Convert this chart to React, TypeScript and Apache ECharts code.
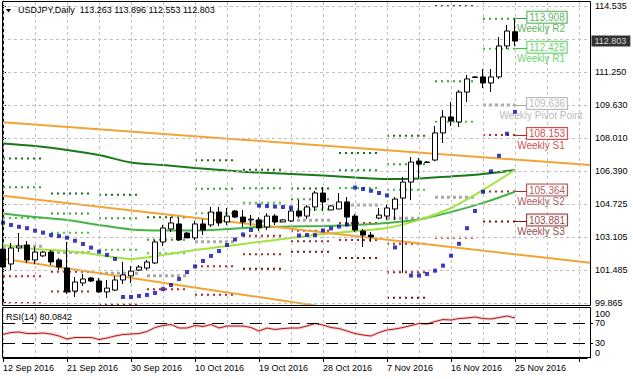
import { useEffect, useRef } from 'react';
import * as echarts from 'echarts';

const FONT = '"Liberation Sans", Arial, Helvetica, sans-serif';

const dates = ['12 Sep 2016','13 Sep 2016','14 Sep 2016','15 Sep 2016','16 Sep 2016','18 Sep 2016','19 Sep 2016','20 Sep 2016','21 Sep 2016','22 Sep 2016','23 Sep 2016','25 Sep 2016','26 Sep 2016','27 Sep 2016','28 Sep 2016','29 Sep 2016','30 Sep 2016','2 Oct 2016','3 Oct 2016','4 Oct 2016','5 Oct 2016','6 Oct 2016','7 Oct 2016','9 Oct 2016','10 Oct 2016','11 Oct 2016','12 Oct 2016','13 Oct 2016','14 Oct 2016','16 Oct 2016','17 Oct 2016','18 Oct 2016','19 Oct 2016','20 Oct 2016','21 Oct 2016','23 Oct 2016','24 Oct 2016','25 Oct 2016','26 Oct 2016','27 Oct 2016','28 Oct 2016','30 Oct 2016','31 Oct 2016','1 Nov 2016','2 Nov 2016','3 Nov 2016','4 Nov 2016','6 Nov 2016','7 Nov 2016','8 Nov 2016','9 Nov 2016','10 Nov 2016','11 Nov 2016','13 Nov 2016','14 Nov 2016','15 Nov 2016','16 Nov 2016','17 Nov 2016','18 Nov 2016','20 Nov 2016','21 Nov 2016','22 Nov 2016','23 Nov 2016','24 Nov 2016','25 Nov 2016'];

const opens = [102.52,101.78,102.57,102.72,101.98,102.18,102.37,101.98,101.58,100.44,100.84,101.09,100.94,100.40,100.49,100.99,101.19,101.48,101.58,101.83,102.87,103.51,103.76,103.31,103.07,103.76,103.71,104.35,103.86,104.40,104.10,103.96,103.96,103.61,104.15,103.86,103.91,104.40,104.15,104.60,105.29,104.45,104.50,104.85,104.15,103.41,103.21,104.05,104.15,104.50,105.04,105.83,106.87,106.80,106.92,108.26,109.05,108.80,110.28,111.00,111.03,110.73,111.03,112.56,113.263];
const highs = [102.67,102.82,103.31,102.92,102.62,102.42,102.47,102.08,102.87,101.14,101.29,101.14,101.09,100.99,101.19,101.88,101.68,101.73,101.98,102.97,103.71,104.10,104.05,103.36,103.91,104.00,104.60,104.60,104.55,104.45,104.45,104.20,104.10,104.30,104.25,104.00,104.50,104.94,104.70,105.39,105.59,104.70,105.29,105.09,104.25,103.51,103.36,104.55,104.70,105.09,106.08,107.07,107.02,106.87,108.60,109.39,109.79,110.38,111.12,111.07,111.42,111.42,113.00,113.60,113.896];
const lows = [101.38,101.48,102.37,101.83,101.78,102.13,101.73,101.48,100.30,100.15,100.69,100.89,100.35,100.10,100.44,100.79,100.84,101.43,101.48,101.78,102.67,103.36,102.92,103.07,102.97,103.21,103.61,103.66,103.71,104.05,103.61,103.66,103.41,103.46,103.71,103.86,103.86,104.05,104.00,104.40,104.40,104.45,104.50,103.66,103.36,102.62,102.87,104.00,103.96,103.96,101.34,104.94,106.03,106.77,106.87,107.76,108.60,108.55,109.79,110.98,110.48,110.28,110.93,112.41,112.553];
const closes = [101.63,102.57,102.67,101.98,102.37,102.37,101.88,101.63,100.40,100.89,101.04,100.94,100.40,100.59,100.99,101.24,101.43,101.63,101.88,102.87,103.56,103.81,102.97,103.07,103.76,103.46,104.35,103.81,104.15,104.10,103.86,104.00,103.56,104.15,103.86,103.96,104.40,104.15,104.60,105.29,104.85,104.65,104.85,104.10,103.46,103.21,103.12,104.20,104.55,104.99,105.83,106.82,106.72,106.82,108.26,109.05,108.85,110.28,110.93,111.03,110.73,111.03,112.56,113.30,112.803];

const sar = [103.82,103.71,103.62,103.55,103.43,103.33,103.21,103.16,103.08,102.93,102.77,102.59,102.39,102.23,102.03,100.15,100.15,100.20,100.25,100.35,100.54,100.74,101.04,101.38,101.66,101.93,102.18,102.42,102.72,102.99,103.24,103.46,104.67,104.65,104.62,104.60,104.57,103.19,103.21,103.21,103.44,103.54,103.63,103.73,105.56,105.49,105.40,105.29,105.17,102.60,105.29,101.21,101.21,101.29,101.45,101.70,102.19,102.78,103.55,104.40,105.35,106.36,107.13,108.22,109.30];

const rsi = [47,51,52,49,49,50,48,44,38,41,41,41,37,40,44,47,48,49,53,61,65,67,60,60,65,63,67,60,64,64,64,61,54,60,57,59,60,60,64,69,66,61,59,54,49,46,44,51,56,58,61,65,69,68,73,77,76,79,80,82,79,78,81,84,80.08];

// moving averages read every 4 bars
const maIdx = [0,4,8,12,16,20,24,28,32,36,40,44,48,52,56,60,64];
const maSlow = [107.74,107.61,107.42,107.17,106.80,106.67,106.53,106.40,106.30,106.23,106.16,106.06,105.98,106.01,106.11,106.23,106.43];
const maMid = [104.28,104.10,103.96,103.71,103.49,103.44,103.44,103.51,103.61,103.63,103.66,103.71,103.81,103.98,104.35,104.80,105.35];
const maFast = [102.72,102.52,102.42,102.23,102.03,102.23,102.47,102.67,102.87,103.07,103.26,103.41,103.56,103.96,104.55,105.44,106.43];

// trend lines (start/end bar index and price)
const trendStartIdx = [0, 0, 0];
const trendStartPrice = [108.79, 105.15, 102.04];
const trendEndIdx = [73.375, 73.375, 40];
const trendEndPrice = [106.67, 101.84, 99.67];

// weekly pivot levels (Mon..Sun weeks)
const weekStart = [0, 6, 12, 18, 24, 30, 36, 42, 48, 54, 60];
const weekEnd = [5, 11, 17, 23, 29, 35, 41, 47, 53, 59, 64];
const pivR3 = [107.00,105.26,105.21,104.09,106.91,106.44,105.51,107.27,108.12,114.54,116.697];
const pivR2 = [105.57,104.28,104.04,102.98,105.50,105.52,104.98,106.43,106.71,110.81,113.908];
const pivR1 = [104.05,103.33,102.49,102.31,104.29,104.81,104.47,105.54,105.45,108.81,112.425];
const pivP = [102.66,102.35,101.32,101.20,102.88,103.89,103.94,104.70,104.04,105.08,109.636];
const pivS1 = [101.18,101.40,99.77,100.53,101.67,103.18,103.43,103.81,102.78,103.08,108.153];
const pivS2 = [99.85,100.42,98.60,99.42,100.26,102.26,102.90,102.97,101.37,99.35,105.364];
const pivS3 = [98.30,99.47,97.05,98.75,99.05,101.55,102.39,102.08,100.11,97.35,103.881];

const yLabelValues = [114.535, 111.25, 109.63, 108.01, 106.39, 104.725, 103.105, 101.485, 99.865];
const yGridValues = [114.535, 112.905, 111.25, 109.63, 108.01, 106.39, 104.725, 103.105, 101.485, 99.865];
const currentPrice = 112.803;
const title = 'USDJPY,Daily  113.263 113.896 112.553 112.803';
const rsiTitle = 'RSI(14) 80.0842';

const SLOTS = 74;

export default function App() {
  const ref = useRef<HTMLDivElement>(null);
  useEffect(() => {
    const chart = echarts.init(ref.current!, null, { renderer: 'svg' });
    const cats = Array.from({ length: SLOTS }, (_, i) => dates[i] ?? '');
    const vGrid = Array.from({ length: 19 }, (_, k) => k * 4);

    const levels = [
      { name: 'R3', vals: pivR3, color: '#1f6b1f', label: null as string | null, dot: [2, 4], w: 2 },
      { name: 'R2', vals: pivR2, color: '#33a133', label: 'Weekly R2', dot: [2, 4], w: 2 },
      { name: 'R1', vals: pivR1, color: '#3ec83e', label: 'Weekly R1', dot: [2, 4], w: 2 },
      { name: 'P', vals: pivP, color: '#a8a8a8', label: 'Weekly Pivot Point', dot: [3, 3], w: 3 },
      { name: 'S1', vals: pivS1, color: '#c42020', label: 'Weekly S1', dot: [2, 4], w: 2 },
      { name: 'S2', vals: pivS2, color: '#963030', label: 'Weekly S2', dot: [2, 4], w: 2 },
      { name: 'S3', vals: pivS3, color: '#7a1010', label: 'Weekly S3', dot: [2, 4], w: 2 },
    ];
    const K = weekStart.length - 1;

    const pivotSeries = levels.map((lv) => {
      const data: any[] = [];
      weekStart.forEach((s, w) => {
        data.push([s, lv.vals[w]], [weekEnd[w], lv.vals[w]], [weekEnd[w], null]);
      });
      return {
        type: 'line', xAxisIndex: 0, yAxisIndex: 0, z: 2, symbol: 'none', showSymbol: false,
        connectNulls: false, silent: true,
        lineStyle: { color: lv.color, width: lv.w, type: lv.dot },
        data,
        markLine: lv.label ? {
          silent: true, symbol: ['none', 'none'], label: { show: false },
          lineStyle: { color: lv.color, width: 1, type: 'solid' },
          data: [[{ coord: [weekEnd[K], lv.vals[K]] }, { coord: [65.5, lv.vals[K]] }]],
        } : undefined,
      };
    });

    const labeled = levels.filter((l) => l.label);

    const option: any = {
      animation: false,
      backgroundColor: '#ffffff',
      textStyle: { fontFamily: FONT },
      title: [
        { text: title, left: 18, top: 5, padding: 0, textStyle: { fontSize: 9, fontWeight: 'normal', color: '#000', fontFamily: FONT } },
        { text: rsiTitle, left: 6, top: 312, padding: 0, textStyle: { fontSize: 9, fontWeight: 'normal', color: '#000', fontFamily: FONT } },
      ],
      grid: [
        { left: 2, right: 43, top: 1, height: 304 },
        { left: 3, right: 46, top: 308, height: 50 },
      ],
      xAxis: [
        { type: 'value', gridIndex: 0, min: -0.125, max: 73.375, show: false },
        {
          type: 'category', gridIndex: 1, data: cats, boundaryGap: false,
          axisLine: { show: true, lineStyle: { color: '#000' } },
          axisTick: { show: true, interval: 7, length: 4, lineStyle: { color: '#000' } },
          axisLabel: { interval: 7, align: 'left', fontSize: 9, color: '#000', margin: 5, fontFamily: FONT },
          splitLine: { show: true, interval: 3, lineStyle: { color: '#c0c0c0', type: [3, 3] } },
        },
      ],
      yAxis: [
        {
          type: 'value', gridIndex: 0, position: 'right', min: 99.753, max: 114.783, scale: true,
          axisLine: { show: true, lineStyle: { color: '#000' } },
          axisTick: { show: true, length: 3, customValues: yLabelValues, lineStyle: { color: '#000' } },
          axisLabel: { customValues: yLabelValues, formatter: (v: number) => v.toFixed(3), fontSize: 9, color: '#000', margin: 5, fontFamily: FONT },
          splitLine: { show: false },
        },
        {
          type: 'value', gridIndex: 1, position: 'right', offset: 3, min: 0, max: 100,
          axisLine: { show: true, lineStyle: { color: '#000' } },
          axisTick: { show: true, length: 3, customValues: [30, 70], lineStyle: { color: '#000' } },
          axisLabel: { customValues: [30, 70], fontSize: 9, color: '#000', margin: 5, fontFamily: FONT },
          splitLine: { show: false },
        },
      ],
      graphic: [
        { type: 'rect', z: 100, silent: true, shape: { x: 2.5, y: 1.5, width: 588, height: 304 }, style: { fill: 'none', stroke: '#000', lineWidth: 1 } },
        { type: 'rect', z: 100, silent: true, shape: { x: 2.5, y: 307.5, width: 588, height: 50 }, style: { fill: 'none', stroke: '#000', lineWidth: 1 } },
        { type: 'polygon', z: 100, silent: true, shape: { points: [[6, 9], [11, 9], [8.5, 12.5]] }, style: { fill: '#000' } },
        { type: 'text', z: 100, silent: true, x: 595, y: 314, style: { text: '100', fontSize: 9, fontFamily: FONT, fill: '#000', verticalAlign: 'middle' } },
        { type: 'text', z: 100, silent: true, x: 595, y: 353, style: { text: '0', fontSize: 9, fontFamily: FONT, fill: '#000', verticalAlign: 'middle' } },
      ],
      series: [
        {
          type: 'line', xAxisIndex: 0, yAxisIndex: 0, data: [], z: 1, silent: true,
          markLine: {
            silent: true, symbol: ['none', 'none'], label: { show: false },
            lineStyle: { color: '#c0c0c0', width: 1, type: [3, 3] },
            data: [...yGridValues.map((v) => ({ yAxis: v })), ...vGrid.map((x) => ({ xAxis: x }))],
          },
        },
        ...pivotSeries,
        { type: 'line', xAxisIndex: 0, yAxisIndex: 0, z: 3, symbol: 'none', smooth: 0.3, silent: true, lineStyle: { color: '#167a16', width: 2 }, data: maIdx.map((x, k) => [x, maSlow[k]]) },
        { type: 'line', xAxisIndex: 0, yAxisIndex: 0, z: 3, symbol: 'none', smooth: 0.3, silent: true, lineStyle: { color: '#44b444', width: 2 }, data: maIdx.map((x, k) => [x, maMid[k]]) },
        { type: 'line', xAxisIndex: 0, yAxisIndex: 0, z: 3, symbol: 'none', smooth: 0.3, silent: true, lineStyle: { color: '#a2e43c', width: 2 }, data: maIdx.map((x, k) => [x, maFast[k]]) },
        ...trendStartIdx.map((s, k) => ({
          type: 'line', xAxisIndex: 0, yAxisIndex: 0, z: 4, symbol: 'none', silent: true,
          lineStyle: { color: '#f2a535', width: 2 },
          data: [[s, trendStartPrice[k]], [trendEndIdx[k], trendEndPrice[k]]],
        })),
        {
          type: 'scatter', xAxisIndex: 0, yAxisIndex: 0, z: 5, symbol: 'rect', symbolSize: [4, 4], silent: true,
          itemStyle: { color: '#0c0cb4' },
          data: sar.map((v, i) => [i, v]),
        },
        {
          type: 'candlestick', xAxisIndex: 0, yAxisIndex: 0, z: 6, barWidth: 5, silent: true,
          itemStyle: { color: '#ffffff', color0: '#000000', borderColor: '#000000', borderColor0: '#000000', borderWidth: 1 },
          data: opens.map((o, i) => [i, o, closes[i], lows[i], highs[i]]),
        },
        {
          type: 'scatter', xAxisIndex: 0, yAxisIndex: 0, z: 8, symbolSize: 1, silent: true,
          itemStyle: { color: 'transparent' },
          data: labeled.map((lv) => ({
            value: [68, lv.vals[K]],
            label: {
              show: true, position: 'inside', offset: [0, -1.5], formatter: lv.vals[K].toFixed(3), color: lv.color,
              fontSize: 10, fontFamily: FONT, backgroundColor: '#ffffff', borderColor: lv.color, borderWidth: 1,
              padding: [1, 2, 0, 2], lineHeight: 10,
            },
          })),
        },
        {
          type: 'scatter', xAxisIndex: 0, yAxisIndex: 0, z: 9, symbolSize: 1, silent: true,
          itemStyle: { color: 'transparent' },
          data: labeled.map((lv) => ({
            value: [67.25, lv.vals[K]],
            label: { show: true, position: 'inside', offset: [0, 10], formatter: lv.label, color: lv.color, fontSize: 10, lineHeight: 10, fontFamily: FONT },
          })),
        },
        {
          type: 'scatter', xAxisIndex: 0, yAxisIndex: 0, z: 9, symbolSize: 1, silent: true,
          itemStyle: { color: 'transparent' },
          data: [{
            value: [73.375, currentPrice],
            label: { show: true, position: 'right', distance: 1, formatter: currentPrice.toFixed(3), color: '#fff', backgroundColor: '#000', fontSize: 9, fontFamily: FONT, padding: [1, 4, 1, 3] },
          }],
        },
        {
          type: 'line', xAxisIndex: 1, yAxisIndex: 1, z: 2, symbol: 'none', silent: true,
          lineStyle: { color: 'rgba(235,120,120,0.35)', width: 3 },
          data: rsi,
        },
        {
          type: 'line', xAxisIndex: 1, yAxisIndex: 1, z: 3, symbol: 'none', silent: true,
          lineStyle: { color: '#b01c1c', width: 1 },
          data: rsi,
          markLine: {
            silent: true, symbol: ['none', 'none'], label: { show: false },
            lineStyle: { color: '#000', width: 1, type: [12, 7] },
            data: [{ yAxis: 70 }, { yAxis: 30 }],
          },
        },
      ],
    };
    chart.setOption(option);
    return () => chart.dispose();
  }, []);
  return <div ref={ref} style={{ position: 'fixed', left: 0, top: 0, width: 633, height: 379, background: '#fff' }} />;
}
